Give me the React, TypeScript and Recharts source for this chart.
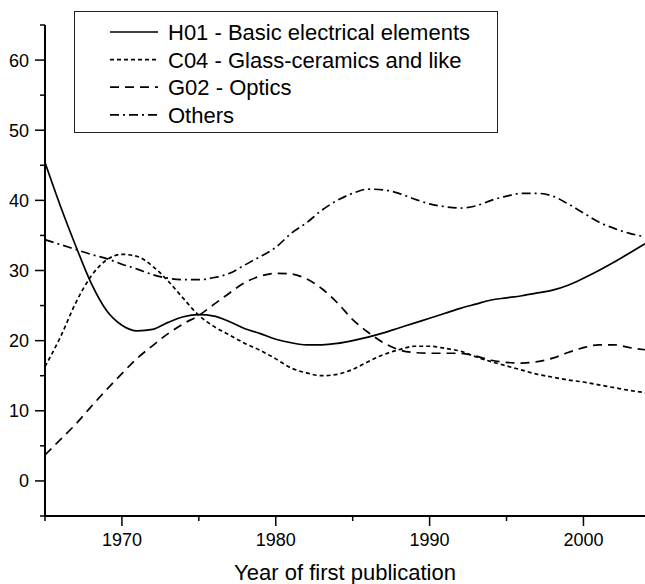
import React from 'react';
import { LineChart, Line, XAxis, YAxis, Legend } from 'recharts';

const years = [
  1965, 1966, 1967, 1968, 1969, 1970, 1971, 1972, 1973, 1974,
  1975, 1976, 1977, 1978, 1979, 1980, 1981, 1982, 1983, 1984,
  1985, 1986, 1987, 1988, 1989, 1990, 1991, 1992, 1993, 1994,
  1995, 1996, 1997, 1998, 1999, 2000, 2001, 2002, 2003, 2004,
];

const h01 = [
  45.4, 39.2, 33.5, 28.2, 24.3, 22.2, 21.4, 21.6, 22.6, 23.4,
  23.7, 23.5, 22.7, 21.7, 21.0, 20.2, 19.7, 19.4, 19.4, 19.6,
  20.0, 20.5, 21.1, 21.8, 22.5, 23.2, 23.9, 24.6, 25.2, 25.8,
  26.1, 26.4, 26.8, 27.2, 27.9, 28.9, 30.0, 31.2, 32.5, 33.8,
];

const c04 = [
  16.3, 20.5, 25.4, 29.2, 31.5, 32.3, 32.0, 30.6, 28.5, 26.0,
  23.6, 22.0, 20.8, 19.6, 18.6, 17.4, 16.1, 15.4, 15.0, 15.2,
  15.9, 17.0, 18.0, 18.7, 19.2, 19.2, 18.9, 18.5, 17.7, 17.0,
  16.4, 15.8, 15.2, 14.8, 14.4, 14.1, 13.7, 13.3, 12.9, 12.6,
];

const g02 = [
  3.7, 5.9, 8.1, 10.6, 13.0, 15.3, 17.5, 19.3, 21.0, 22.4,
  23.6, 25.2, 26.8, 28.3, 29.2, 29.6, 29.5, 28.8, 27.4, 25.4,
  23.0, 21.2, 19.7, 18.7, 18.3, 18.2, 18.2, 18.2, 17.8, 17.2,
  16.9, 16.8, 17.0, 17.5, 18.3, 19.0, 19.4, 19.4, 19.0, 18.7,
];

const others = [
  34.4, 33.7, 33.0, 32.3, 31.7, 30.9, 30.2, 29.4, 28.9, 28.7,
  28.7, 29.0, 29.6, 30.8, 32.0, 33.3, 35.3, 36.8, 38.6, 40.0,
  41.0, 41.6, 41.5, 41.0, 40.2, 39.5, 39.1, 38.9, 39.2, 40.0,
  40.6, 41.0, 41.0, 40.6, 39.5, 38.2, 36.9, 36.0, 35.3, 34.8,
];

const xTicks = [1965, 1970, 1975, 1980, 1985, 1990, 1995, 2000];
const yTicks = [-5, 0, 5, 10, 15, 20, 25, 30, 35, 40, 45, 50, 55, 60, 65];

const seriesInfo = [
  { key: 'h01', name: 'H01 - Basic electrical elements', dash: undefined },
  { key: 'c04', name: 'C04 - Glass-ceramics and like', dash: '4 3' },
  { key: 'g02', name: 'G02 - Optics', dash: '9 6' },
  { key: 'others', name: 'Others', dash: '9 4 2 4' },
];

const data = years.map((year, i) => ({
  year,
  h01: h01[i],
  c04: c04[i],
  g02: g02[i],
  others: others[i],
}));

const FONT = '"Liberation Sans", Arial, sans-serif';

const YTick = ({ x, y, payload }: any) => {
  const major = payload.value % 10 === 0;
  return (
    <g>
      <line x1={x - (major ? 10 : 5)} x2={x} y1={y} y2={y} stroke="#000" strokeWidth={1.5} />
      {major && (
        <text x={x - 16} y={y} dy="0.36em" textAnchor="end" fontSize={18} fill="#000" fontFamily={FONT}>
          {payload.value}
        </text>
      )}
    </g>
  );
};

const XTick = ({ x, y, payload }: any) => {
  const major = payload.value % 10 === 0;
  return (
    <g>
      <line x1={x} x2={x} y1={y} y2={y + (major ? 10 : 5)} stroke="#000" strokeWidth={1.5} />
      {major && (
        <text x={x} y={y + 17} dy="0.72em" textAnchor="middle" fontSize={18} fill="#000" fontFamily={FONT}>
          {payload.value}
        </text>
      )}
    </g>
  );
};

const LegendBox = () => (
  <svg width={424} height={122} style={{ display: 'block' }}>
    <rect x={0.5} y={0.5} width={423} height={121} fill="#fff" stroke="#222" strokeWidth={1} />
    {seriesInfo.map((s, i) => {
      const cy = 21 + i * 27.6;
      return (
        <g key={s.key}>
          <line x1={36} x2={84} y1={cy} y2={cy} stroke="#000" strokeWidth={1.7} strokeDasharray={s.dash} />
          <text x={94} y={cy} dy="0.36em" fontSize={22} fill="#000" fontFamily={FONT}>
            {s.name}
          </text>
        </g>
      );
    })}
  </svg>
);

export default function App() {
  return (
    <div style={{ width: 645, height: 584 }}>
      <style>{'body{margin:0;overflow:hidden;}'}</style>
      <LineChart width={645} height={584} data={data} margin={{ top: 25, right: 0, bottom: 0, left: 0 }}>
        <XAxis
          dataKey="year"
          type="number"
          domain={[1965, 2004]}
          ticks={xTicks}
          height={68}
          tickSize={0}
          tickMargin={0}
          tickLine={false}
          tick={<XTick />}
          axisLine={{ stroke: '#000', strokeWidth: 2 }}
          label={{ value: 'Year of first publication', position: 'insideBottom', offset: 4, fontSize: 22, fill: '#000', fontFamily: FONT }}
        />
        <YAxis
          type="number"
          domain={[-5, 65]}
          ticks={yTicks}
          width={45}
          tickSize={0}
          tickMargin={0}
          tickLine={false}
          tick={<YTick />}
          axisLine={{ stroke: '#000', strokeWidth: 2 }}
        />
        <Legend
          layout="vertical"
          align="center"
          verticalAlign="middle"
          content={<LegendBox />}
          wrapperStyle={{ position: 'absolute', top: 11, left: 74, width: 424, height: 122 }}
        />
        {seriesInfo.map((s) => (
          <Line
            key={s.key}
            type="monotone"
            dataKey={s.key}
            name={s.name}
            stroke="#000"
            strokeWidth={1.7}
            strokeDasharray={s.dash}
            dot={false}
            isAnimationActive={false}
          />
        ))}
      </LineChart>
    </div>
  );
}
